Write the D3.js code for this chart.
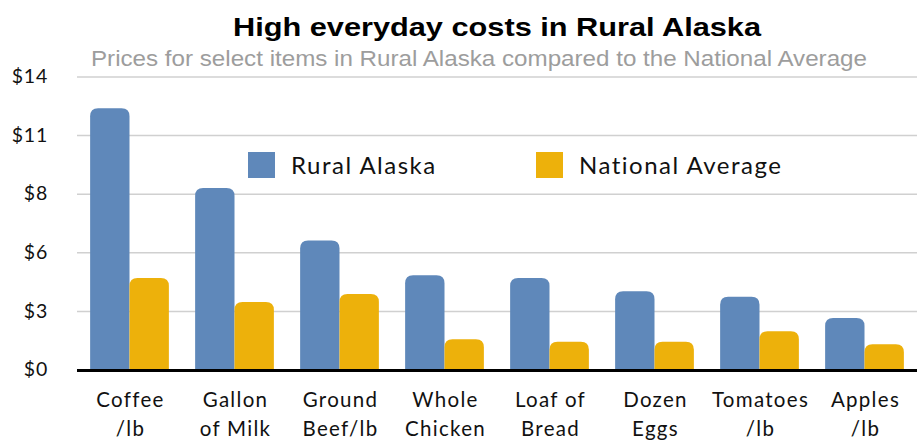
<!DOCTYPE html>
<html>
<head>
<meta charset="utf-8">
<script src="https://cdn.jsdelivr.net/npm/d3@7"></script>
<style>
  body { margin: 0; background: #fff; }
  svg { display: block; }
</style>
</head>
<body>
<svg id="chart" width="917" height="440"></svg>
<script>
// data
const categories = [
  ['Coffee', '/lb'],
  ['Gallon', 'of Milk'],
  ['Ground', 'Beef/lb'],
  ['Whole', 'Chicken'],
  ['Loaf of', 'Bread'],
  ['Dozen', 'Eggs'],
  ['Tomatoes', '/lb'],
  ['Apples', '/lb']
];
const seriesNames = ['Rural Alaska', 'National Average'];
const ruralAlaska = [12.48, 8.67, 6.16, 4.5, 4.37, 3.74, 3.48, 2.46];
const nationalAverage = [4.37, 3.23, 3.61, 1.45, 1.32, 1.32, 1.83, 1.21];
const tickValues = [0, 2.8, 5.6, 8.4, 11.2, 14];
const tickLabels = ['$0', '$3', '$6', '$8', '$11', '$14'];

const colors = ['#5f88ba', '#edb10b'];
const series = [ruralAlaska, nationalAverage];

const svg = d3.select('#chart'),
  margin = {top: 76.5, right: 0, bottom: 70.5, left: 77},
  width = 917 - margin.left - margin.right,
  height = 440 - margin.top - margin.bottom;

const x0 = d3.scaleBand()
  .domain(d3.range(categories.length))
  .range([0, width])
  .paddingInner(0.25)
  .paddingOuter(0.125);

const x1 = d3.scaleBand()
  .domain(d3.range(seriesNames.length))
  .range([0, x0.bandwidth()]);

const y = d3.scaleLinear().domain([0, 14]).range([height, 0]);

const g = svg.append('g').attr('transform', 'translate(' + margin.left + ',' + margin.top + ')');

// title + subtitle
svg.append('text')
  .attr('x', 497).attr('y', 35.5)
  .attr('text-anchor', 'middle')
  .style('font', 'bold 26px "Liberation Sans", Arial, sans-serif')
  .attr('textLength', 528).attr('lengthAdjust', 'spacingAndGlyphs')
  .attr('fill', '#000')
  .text('High everyday costs in Rural Alaska');

svg.append('text')
  .attr('x', 479).attr('y', 66)
  .attr('text-anchor', 'middle')
  .style('font', '22px "Liberation Sans", Arial, sans-serif')
  .attr('textLength', 776).attr('lengthAdjust', 'spacingAndGlyphs')
  .attr('fill', '#9d9d9d')
  .text('Prices for select items in Rural Alaska compared to the National Average');

// grid + y axis
const yAxis = g.append('g')
  .call(d3.axisLeft(y)
    .tickValues(tickValues)
    .tickSize(-width)
    .tickFormat(function(d, i) { return tickLabels[i]; }));
yAxis.select('.domain').remove();
yAxis.selectAll('.tick line').attr('stroke', '#d0d0d0').attr('stroke-width', 1.5);
yAxis.selectAll('.tick text')
  .attr('x', -29)
  .style('font', '19.5px Lato, "Noto Sans", sans-serif')
  .style('letter-spacing', '0.8px')
  .attr('fill', '#111');

// bars with rounded tops
function barPath(bx, by, bw, bh, r) {
  r = Math.min(r, bh, bw / 2);
  return 'M' + bx + ',' + (by + bh) +
    'V' + (by + r) +
    'Q' + bx + ',' + by + ' ' + (bx + r) + ',' + by +
    'H' + (bx + bw - r) +
    'Q' + (bx + bw) + ',' + by + ' ' + (bx + bw) + ',' + (by + r) +
    'V' + (by + bh) + 'Z';
}

const groups = g.selectAll('.group')
  .data(categories)
  .enter().append('g')
    .attr('class', 'group')
    .attr('transform', function(d, i) { return 'translate(' + x0(i) + ',0)'; });

groups.selectAll('path')
  .data(function(d, i) { return series.map(function(s, k) { return {k: k, v: s[i]}; }); })
  .enter().append('path')
    .attr('fill', function(d) { return colors[d.k]; })
    .attr('d', function(d) {
      return barPath(x1(d.k), y(d.v), x1.bandwidth(), height - y(d.v), 8);
    });

// baseline
g.append('line')
  .attr('x1', 0).attr('x2', width)
  .attr('y1', height + 1).attr('y2', height + 1)
  .attr('stroke', '#000').attr('stroke-width', 3);

// category labels
const labels = g.selectAll('.xlabel')
  .data(categories)
  .enter().append('text')
    .attr('class', 'xlabel')
    .attr('text-anchor', 'middle')
    .attr('x', function(d, i) { return x0(i) + x0.bandwidth() / 2; })
    .style('font', '20.5px Lato, "Noto Sans", sans-serif')
    .style('letter-spacing', '1.3px')
    .attr('fill', '#111');
labels.append('tspan')
  .attr('x', function(d, i) { return x0(i) + x0.bandwidth() / 2 + 1; })
  .attr('y', height + 37)
  .text(function(d) { return d[0]; });
labels.append('tspan')
  .attr('x', function(d, i) { return x0(i) + x0.bandwidth() / 2 + 1; })
  .attr('y', height + 66)
  .text(function(d) { return d[1]; });

// legend
const legendX = [248, 536];
const legend = svg.selectAll('.legend')
  .data(seriesNames)
  .enter().append('g')
    .attr('class', 'legend')
    .attr('transform', function(d, i) { return 'translate(' + legendX[i] + ',152)'; });
legend.append('rect')
  .attr('width', 27).attr('height', 26)
  .attr('fill', function(d, i) { return colors[i]; });
legend.append('text')
  .attr('x', 43).attr('y', 21.5)
  .style('font', '24px Lato, "Noto Sans", sans-serif')
  .style('letter-spacing', '1.5px')
  .attr('fill', '#111')
  .text(function(d) { return d; });
</script>
</body>
</html>
